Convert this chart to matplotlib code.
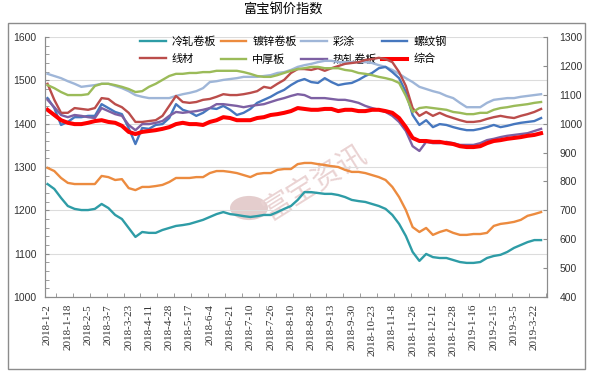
import numpy as np
import matplotlib
matplotlib.use("Agg")
import matplotlib.pyplot as plt
from matplotlib.patches import Rectangle, Circle

plt.rcParams['font.family'] = ['Noto Sans CJK SC', 'DejaVu Sans']

# one value every 4 trading days, 2018-1-2 .. 2019-3-29
step = 4
date_labels = ["2018-1-2", "2018-1-18", "2018-2-5", "2018-3-7", "2018-3-23", "2018-4-11",
               "2018-4-28", "2018-5-17", "2018-6-4", "2018-6-21", "2018-7-10", "2018-7-26",
               "2018-8-10", "2018-8-28", "2018-9-13", "2018-9-30", "2018-10-23", "2018-11-8",
               "2018-11-26", "2018-12-12", "2018-12-28", "2019-1-16", "2019-2-15", "2019-3-5",
               "2019-3-22"]
label_every = 12

# right axis series
cold_rolled = [791, 774, 743, 715, 705, 701, 701, 705, 722, 708, 684, 670, 639, 608, 625, 622,
               622, 632, 639, 646, 649, 653, 660, 667, 677, 687, 694, 687, 684, 680, 677, 680,
               684, 684, 694, 705, 715, 736, 763, 763, 760, 757, 757, 753, 746, 736, 732, 729,
               722, 715, 705, 684, 653, 611, 556, 525, 549, 538, 535, 535, 528, 521, 518, 518,
               521, 535, 542, 546, 556, 570, 580, 590, 597, 597]
galvanized = [847, 836, 812, 795, 791, 791, 791, 791, 819, 815, 805, 808, 777, 770, 781, 781,
              784, 788, 798, 812, 812, 812, 815, 815, 829, 836, 836, 833, 829, 822, 815, 826,
              829, 829, 840, 843, 843, 860, 864, 864, 860, 857, 853, 850, 840, 833, 833, 829,
              822, 815, 805, 781, 746, 701, 642, 625, 639, 615, 625, 632, 622, 615, 615, 618,
              618, 622, 646, 653, 656, 660, 667, 681, 687, 694]

# left axis series
color_coated = [1515, 1510, 1505, 1498, 1492, 1485, 1487, 1489, 1492, 1492, 1487, 1482, 1475, 1466,
                1462, 1459, 1459, 1459, 1459, 1464, 1468, 1471, 1475, 1482, 1496, 1498, 1501, 1503,
                1505, 1508, 1508, 1508, 1510, 1512, 1517, 1519, 1524, 1531, 1535, 1538, 1542, 1545,
                1545, 1542, 1542, 1542, 1542, 1542, 1540, 1535, 1531, 1524, 1515, 1505, 1496, 1485,
                1480, 1475, 1471, 1464, 1459, 1448, 1438, 1438, 1438, 1448, 1455, 1457, 1459, 1459,
                1462, 1464, 1466, 1468]
rebar = [1459, 1436, 1397, 1404, 1415, 1415, 1418, 1418, 1445, 1436, 1427, 1422, 1390, 1353,
         1390, 1388, 1397, 1399, 1413, 1445, 1432, 1427, 1418, 1425, 1436, 1434, 1441, 1432,
         1420, 1425, 1434, 1448, 1455, 1462, 1471, 1478, 1489, 1498, 1503, 1496, 1494, 1505,
         1496, 1489, 1492, 1494, 1501, 1510, 1517, 1528, 1531, 1519, 1505, 1473, 1420, 1397,
         1408, 1392, 1399, 1397, 1392, 1388, 1385, 1385, 1388, 1392, 1397, 1392, 1395, 1399,
         1402, 1404, 1406, 1413]
wire_rod = [1492, 1455, 1425, 1425, 1436, 1434, 1432, 1436, 1459, 1457, 1445, 1438, 1425, 1404,
            1404, 1406, 1408, 1418, 1441, 1464, 1450, 1448, 1450, 1455, 1457, 1462, 1468, 1466,
            1466, 1468, 1471, 1475, 1485, 1482, 1492, 1501, 1517, 1526, 1526, 1524, 1528, 1522,
            1528, 1533, 1538, 1540, 1542, 1547, 1549, 1552, 1549, 1542, 1519, 1487, 1436, 1418,
            1427, 1418, 1425, 1418, 1413, 1408, 1404, 1404, 1406, 1411, 1415, 1418, 1415, 1413,
            1418, 1422, 1427, 1434]
plate = [1489, 1482, 1473, 1466, 1466, 1466, 1468, 1487, 1492, 1492, 1489, 1485, 1480, 1473,
         1475, 1485, 1492, 1501, 1510, 1515, 1515, 1517, 1517, 1519, 1519, 1522, 1522, 1522,
         1522, 1519, 1515, 1510, 1508, 1508, 1512, 1517, 1522, 1526, 1528, 1531, 1531, 1528,
         1528, 1528, 1524, 1522, 1517, 1515, 1512, 1508, 1505, 1501, 1494, 1464, 1427, 1436,
         1438, 1436, 1434, 1432, 1427, 1425, 1422, 1422, 1425, 1425, 1432, 1436, 1438, 1441,
         1443, 1445, 1448, 1450]
hot_rolled = [1455, 1438, 1420, 1415, 1420, 1418, 1415, 1413, 1436, 1429, 1422, 1418, 1397, 1385,
              1399, 1399, 1402, 1406, 1418, 1427, 1425, 1427, 1429, 1432, 1436, 1445, 1445, 1443,
              1441, 1438, 1441, 1443, 1445, 1450, 1455, 1459, 1464, 1468, 1466, 1459, 1459, 1459,
              1457, 1455, 1455, 1452, 1448, 1441, 1436, 1432, 1427, 1418, 1404, 1383, 1348, 1337,
              1358, 1355, 1355, 1358, 1355, 1351, 1351, 1351, 1355, 1362, 1365, 1369, 1372, 1374,
              1376, 1378, 1383, 1388]
composite = [1432, 1420, 1408, 1402, 1399, 1399, 1402, 1406, 1408, 1404, 1402, 1395, 1381, 1376,
             1381, 1383, 1385, 1388, 1392, 1399, 1402, 1399, 1399, 1397, 1404, 1408, 1415, 1413,
             1408, 1408, 1408, 1413, 1415, 1420, 1422, 1425, 1429, 1436, 1434, 1432, 1432, 1434,
             1434, 1429, 1432, 1432, 1429, 1429, 1432, 1432, 1429, 1425, 1413, 1392, 1367, 1360,
             1360, 1358, 1358, 1355, 1353, 1348, 1346, 1346, 1348, 1355, 1360, 1362, 1365, 1367,
             1369, 1372, 1374, 1378]

fig = plt.figure(figsize=(5.95, 3.78), dpi=100)
fig.patches.append(Rectangle((8 / 595, 1 - 369 / 378), 577 / 595, 346 / 378,
                             transform=fig.transFigure, fill=False, edgecolor='#8c8c8c', lw=1))
ax = fig.add_axes([45 / 595, 1 - 297 / 378, 502 / 595, 260 / 378])
ax2 = ax.twinx()

x = np.arange(len(composite)) * step

lw = 1.7
l_lb, = ax.plot(x, color_coated, color='#9fb6d8', lw=lw)
l_bl, = ax.plot(x, rebar, color='#4677be', lw=lw)
l_dr, = ax.plot(x, wire_rod, color='#bb4d4b', lw=lw)
l_gr, = ax.plot(x, plate, color='#9bbb59', lw=lw)
l_pu, = ax.plot(x, hot_rolled, color='#7d60a3', lw=lw)
l_rd, = ax.plot(x, composite, color='#ff0000', lw=2.9)
l_te, = ax2.plot(x, cold_rolled, color='#2e9ca6', lw=lw)
l_or, = ax2.plot(x, galvanized, color='#ec8b3f', lw=lw)

ax.set_ylim(1000, 1600)
ax2.set_ylim(400, 1300)
ax.set_xlim(-1.5, x[-1] + 3.5)

ax.set_yticks(np.arange(1000, 1601, 100))
ax.set_yticks(np.arange(1000, 1601, 20), minor=True)
ax2.set_yticks(np.arange(400, 1301, 100))
ax.grid(axis='y', color='#dcdcdc', lw=0.8)
ax.set_axisbelow(True)

ticks = np.arange(len(date_labels)) * label_every
ax.set_xticks(ticks)
ax.set_xticklabels(date_labels, rotation=90, family='Liberation Serif', fontsize=8, color='#333333')
ax.set_xticks(np.arange(5, x[-1] + 4, 10), minor=True)
ax.tick_params(axis='x', which='major', length=0, pad=5)
ax.tick_params(axis='x', which='minor', direction='in', length=3, color='#8c8c8c')
ax.tick_params(axis='y', which='both', direction='in', length=3, color='#8c8c8c',
               labelsize=7.5, labelcolor='#333333', pad=6)
ax2.tick_params(axis='y', direction='in', length=3, color='#8c8c8c',
                labelsize=7.5, labelcolor='#333333', pad=9)
for t in ax.get_yticklabels() + ax2.get_yticklabels():
    t.set_family('Liberation Sans')

for a in (ax, ax2):
    a.spines['top'].set_visible(False)
    for s in ('left', 'right', 'bottom'):
        a.spines[s].set_color('#8c8c8c')

# watermark
ax.add_patch(Circle((249 / 595, 1 - 208 / 378), 19 / 595, transform=fig.transFigure,
                    color='#d9b9b9', alpha=0.7, zorder=0.5, lw=0))
ax.text(315 / 595, 1 - 183 / 378, '富宝资讯', transform=fig.transFigure, rotation=32,
        fontsize=21, color='#ead3d3', ha='center', va='center', zorder=0.5)

handles = [l_te, l_dr, l_or, l_gr, l_lb, l_pu, l_bl, l_rd]
names = ['冷轧卷板', '线材', '镀锌卷板', '中厚板', '彩涂', '热轧卷板', '螺纹钢', '综合']
leg = ax.legend(handles, names, ncol=4, loc='upper left', frameon=False,
                bbox_to_anchor=(140 / 595, 1 - 36 / 378), bbox_transform=fig.transFigure,
                fontsize=8, handlelength=2.3, handletextpad=0.55, columnspacing=0.4,
                labelspacing=0.65, borderpad=0, borderaxespad=0)
leg.set_zorder(1)

fig.text(284 / 595, 1 - 10 / 378, '富宝钢价指数', ha='center', va='center', fontsize=9.5)

fig.savefig('out.png', dpi=100)
